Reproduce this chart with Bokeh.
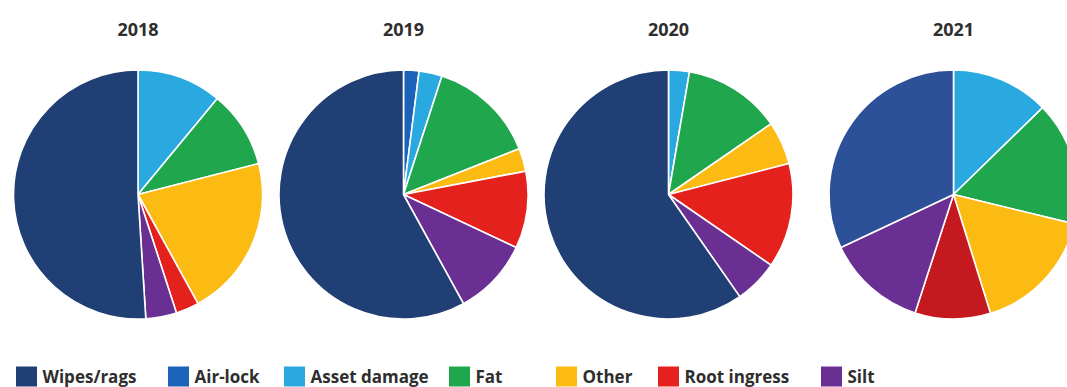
import numpy as np
from bokeh.plotting import figure
from bokeh.models import Range1d, ColumnDataSource
from bokeh.core.properties import value
from bokeh.embed import file_html
from bokeh.resources import INLINE

# ---- data ----
years = ["2018", "2019", "2020", "2021"]
categories = ["Air-lock", "Asset damage", "Fat", "Other", "Root ingress", "Silt", "Wipes/rags"]
share_2018 = [0.0, 11.0, 10.0, 21.0, 3.0, 4.0, 51.0]
share_2019 = [2.0, 3.0, 14.0, 3.0, 10.0, 10.0, 58.0]
share_2020 = [0.0, 2.7, 12.7, 5.6, 13.6, 5.7, 59.7]
share_2021 = [0.0, 12.7, 16.1, 16.4, 9.8, 13.0, 32.0]
legend_order = ["Wipes/rags", "Air-lock", "Asset damage", "Fat", "Other", "Root ingress", "Silt"]

# ---- styles ----
colors = {
    "Wipes/rags": "#203f74",
    "Air-lock": "#1b63b8",
    "Asset damage": "#2aa9e1",
    "Fat": "#20a64c",
    "Other": "#fcbb12",
    "Root ingress": "#e4211d",
    "Silt": "#6a2f92",
}
colors_2021 = dict(colors)
colors_2021["Wipes/rags"] = "#2c5198"
colors_2021["Root ingress"] = "#c4191e"

W, H = 1067, 387
p = figure(width=W, height=H, output_backend="svg", toolbar_location=None,
           x_range=Range1d(0, W), y_range=Range1d(-H, 0),
           x_axis_type=None, y_axis_type=None, min_border=0,
           outline_line_color=None, background_fill_color="white")
p.grid.visible = False

centers_x = [137.5, 403, 668, 953]
center_y = -194
radius = 124.5
title_y = -29
all_shares = [share_2018, share_2019, share_2020, share_2021]
palettes = [colors, colors, colors, colors_2021]

for yr, shares, cx, pal in zip(years, all_shares, centers_x, palettes):
    s = np.array(shares, dtype=float)
    frac = s / s.sum()
    cum = np.concatenate([[0.0], np.cumsum(frac)])
    start = np.pi / 2 - cum[:-1] * 2 * np.pi
    end = np.pi / 2 - cum[1:] * 2 * np.pi
    keep = s > 0
    src = ColumnDataSource(dict(
        x=[cx] * int(keep.sum()),
        y=[center_y] * int(keep.sum()),
        start=list(start[keep]),
        end=list(end[keep]),
        color=[pal[c] for c, k in zip(categories, keep) if k],
    ))
    p.wedge(x="x", y="y", radius=radius, start_angle="start", end_angle="end",
            direction="clock", fill_color="color", line_color="white",
            line_width=1.6, source=src)
    p.text(x=[cx], y=[title_y], text=[yr], text_align="center", text_baseline="middle",
           text_font=value("Open Sans"), text_font_style="bold", text_font_size="18px",
           text_color="#2e2e2e")

# ---- legend ----
leg_x = [15, 167, 283, 448, 555, 657, 820]
leg_y = -376
for name, lx in zip(legend_order, leg_x):
    p.rect(x=[lx + 11], y=[leg_y], width=21, height=20, width_units="screen",
           height_units="screen", fill_color=colors[name], line_color=None)
    p.text(x=[lx + 27], y=[leg_y], text=[name], text_align="left", text_baseline="middle",
           text_font=value("Open Sans"), text_font_style="bold", text_font_size="17px",
           text_color="#2e2e2e")

open("out.html", "w").write(file_html(p, INLINE))
